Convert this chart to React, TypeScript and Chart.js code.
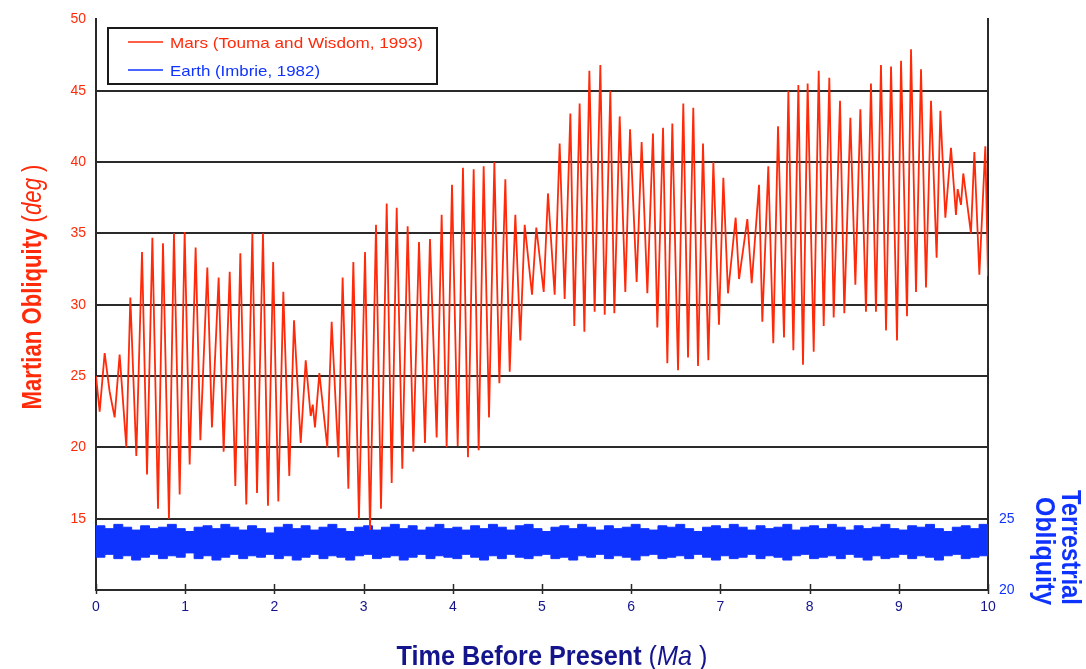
import React, { useEffect, useRef } from "react";
import { Chart, registerables } from "chart.js";

Chart.register(...registerables);

// Mars obliquity (Touma & Wisdom, 1993): successive turning points of the record
const marsTime = [
  0.0, 0.041, 0.097, 0.153, 0.209, 0.265, 0.34, 0.385, 0.452, 0.516,
  0.572, 0.632, 0.695, 0.751, 0.818, 0.874, 0.938, 0.994, 1.05, 1.117,
  1.17, 1.248, 1.3, 1.375, 1.431, 1.499, 1.562, 1.618, 1.685, 1.753,
  1.805, 1.872, 1.928, 1.986, 2.044, 2.1, 2.167, 2.22, 2.295, 2.351,
  2.407, 2.43, 2.455, 2.504, 2.593, 2.642, 2.717, 2.765, 2.829, 2.885,
  2.948, 3.016, 3.072, 3.139, 3.195, 3.259, 3.315, 3.371, 3.434, 3.494,
  3.558, 3.621, 3.688, 3.744, 3.819, 3.875, 3.931, 3.991, 4.055, 4.114,
  4.17, 4.234, 4.29, 4.346, 4.406, 4.466, 4.522, 4.589, 4.638, 4.701,
  4.757, 4.806, 4.888, 4.936, 5.019, 5.067, 5.142, 5.198, 5.254, 5.318,
  5.362, 5.422, 5.475, 5.531, 5.59, 5.654, 5.703, 5.766, 5.811, 5.871,
  5.934, 5.987, 6.061, 6.117, 6.181, 6.244, 6.293, 6.357, 6.405, 6.461,
  6.525, 6.584, 6.637, 6.696, 6.749, 6.805, 6.865, 6.921, 6.984, 7.033,
  7.085, 7.171, 7.209, 7.302, 7.351, 7.433, 7.47, 7.537, 7.593, 7.646,
  7.713, 7.762, 7.818, 7.874, 7.926, 7.978, 8.046, 8.102, 8.158, 8.221,
  8.27, 8.341, 8.389, 8.457, 8.513, 8.569, 8.632, 8.688, 8.744, 8.8,
  8.857, 8.913, 8.98, 9.025, 9.092, 9.137, 9.193, 9.249, 9.305, 9.361,
  9.424, 9.466, 9.522, 9.585, 9.641, 9.66, 9.697, 9.723, 9.809, 9.847,
  9.903, 9.97, 10.0,
];
const marsObliquity = [
  25.0, 22.5, 26.6, 23.9, 22.1, 26.5, 20.0, 30.5, 19.4, 33.7,
  18.1, 34.7, 15.7, 34.3, 15.0, 35.0, 16.7, 35.1, 18.8, 34.0,
  20.5, 32.6, 21.4, 31.9, 19.7, 32.3, 17.3, 33.6, 16.0, 35.0,
  16.8, 35.0, 15.9, 33.0, 16.2, 30.9, 18.0, 28.9, 20.3, 26.1,
  22.2, 23.0, 21.4, 25.2, 20.0, 28.8, 19.3, 31.9, 17.1, 33.0,
  15.0, 33.7, 14.2, 35.6, 15.7, 37.1, 17.5, 36.8, 18.5, 35.5,
  19.7, 34.4, 20.3, 34.6, 20.7, 36.3, 20.0, 38.4, 20.1, 39.6,
  19.3, 39.5, 19.8, 39.7, 22.1, 40.0, 24.5, 38.8, 25.3, 36.3,
  27.5, 35.6, 30.7, 35.4, 30.9, 37.8, 30.7, 41.3, 30.4, 43.4,
  28.5, 44.1, 28.1, 46.4, 29.5, 46.8, 29.3, 45.0, 29.4, 43.2,
  30.9, 42.3, 31.6, 41.4, 30.8, 42.0, 28.4, 42.4, 25.9, 42.7,
  25.4, 44.1, 26.3, 43.8, 25.7, 41.3, 26.1, 40.0, 28.6, 38.9,
  30.8, 36.1, 31.8, 36.0, 31.5, 38.4, 28.8, 39.7, 27.3, 42.5,
  27.7, 45.0, 26.8, 45.4, 25.8, 45.5, 26.7, 46.4, 28.5, 45.9,
  29.1, 44.3, 29.4, 43.1, 31.4, 43.7, 29.5, 45.5, 29.5, 46.8,
  28.2, 46.7, 27.5, 47.1, 29.2, 47.9, 30.9, 46.5, 31.2, 44.3,
  33.3, 43.6, 36.1, 41.0, 36.3, 38.1, 37.0, 39.2, 35.0, 40.7,
  32.1, 41.1, 32.0,
];

// Earth obliquity (Imbrie, 1982): upper and lower envelope of the 41 kyr cycle band
const earthTime = [
  0.0, 0.1, 0.2, 0.3, 0.4, 0.5, 0.6, 0.7, 0.8, 0.9,
  1.0, 1.1, 1.2, 1.3, 1.4, 1.5, 1.6, 1.7, 1.8, 1.9,
  2.0, 2.1, 2.2, 2.3, 2.4, 2.5, 2.6, 2.7, 2.8, 2.9,
  3.0, 3.1, 3.2, 3.3, 3.4, 3.5, 3.6, 3.7, 3.8, 3.9,
  4.0, 4.1, 4.2, 4.3, 4.4, 4.5, 4.6, 4.7, 4.8, 4.9,
  5.0, 5.1, 5.2, 5.3, 5.4, 5.5, 5.6, 5.7, 5.8, 5.9,
  6.0, 6.1, 6.2, 6.3, 6.4, 6.5, 6.6, 6.7, 6.8, 6.9,
  7.0, 7.1, 7.2, 7.3, 7.4, 7.5, 7.6, 7.7, 7.8, 7.9,
  8.0, 8.1, 8.2, 8.3, 8.4, 8.5, 8.6, 8.7, 8.8, 8.9,
  9.0, 9.1, 9.2, 9.3, 9.4, 9.5, 9.6, 9.7, 9.8, 9.9, 10.0,
];
const earthUpper = [
  24.5, 24.3, 24.6, 24.4, 24.2, 24.5, 24.3, 24.4, 24.6, 24.3,
  24.1, 24.4, 24.5, 24.3, 24.6, 24.4, 24.2, 24.5, 24.3, 24.0,
  24.4, 24.6, 24.3, 24.5, 24.2, 24.4, 24.6, 24.3, 24.1, 24.4,
  24.5, 24.2, 24.4, 24.6, 24.3, 24.5, 24.2, 24.4, 24.6, 24.3,
  24.4, 24.2, 24.5, 24.3, 24.6, 24.4, 24.2, 24.5, 24.6, 24.3,
  24.1, 24.4, 24.5, 24.3, 24.6, 24.4, 24.2, 24.5, 24.3, 24.4,
  24.6, 24.3, 24.2, 24.5, 24.4, 24.6, 24.3, 24.1, 24.4, 24.5,
  24.3, 24.6, 24.4, 24.2, 24.5, 24.3, 24.4, 24.6, 24.2, 24.4,
  24.5, 24.3, 24.6, 24.4, 24.2, 24.5, 24.3, 24.4, 24.6, 24.3,
  24.2, 24.5, 24.4, 24.6, 24.3, 24.1, 24.4, 24.5, 24.3, 24.6, 24.4,
];
const earthLower = [
  22.3, 22.5, 22.2, 22.4, 22.1, 22.3, 22.5, 22.2, 22.4, 22.3,
  22.6, 22.2, 22.4, 22.1, 22.3, 22.5, 22.2, 22.4, 22.3, 22.5,
  22.2, 22.4, 22.1, 22.3, 22.5, 22.2, 22.4, 22.3, 22.1, 22.4,
  22.5, 22.2, 22.3, 22.4, 22.1, 22.3, 22.5, 22.2, 22.4, 22.3,
  22.2, 22.5, 22.3, 22.1, 22.4, 22.2, 22.5, 22.3, 22.2, 22.4,
  22.5, 22.2, 22.3, 22.1, 22.4, 22.3, 22.5, 22.2, 22.4, 22.3,
  22.1, 22.4, 22.5, 22.2, 22.3, 22.4, 22.2, 22.5, 22.3, 22.1,
  22.4, 22.2, 22.3, 22.5, 22.2, 22.4, 22.3, 22.1, 22.4, 22.5,
  22.2, 22.3, 22.4, 22.2, 22.5, 22.3, 22.1, 22.4, 22.2, 22.3,
  22.5, 22.2, 22.4, 22.3, 22.1, 22.4, 22.5, 22.2, 22.3, 22.4, 22.3,
];

// Axis tick values that carry a label
const timeTicks = [0, 1, 2, 3, 4, 5, 6, 7, 8, 9, 10];
const marsTicks = [15, 20, 25, 30, 35, 40, 45, 50];
const earthTicks = [20, 25];

const MARS_RED = "#ff2a0a";
const EARTH_BLUE = "#0f33ff";
const NAVY = "#14148c";
const GRID = "#2a2a2a";
const NARROW = '"Liberation Sans Narrow", Arial, sans-serif';
const REGULAR = "Arial, sans-serif";

type Part = { text: string; font: string };

// Draws a run of differently styled text pieces, squeezed to a given length
function drawFitted(
  ctx: CanvasRenderingContext2D,
  parts: Part[],
  cx: number,
  cy: number,
  angle: number,
  length: number,
  color: string
) {
  ctx.save();
  let total = 0;
  const widths = parts.map((p) => {
    ctx.font = p.font;
    const w = ctx.measureText(p.text).width;
    total += w;
    return w;
  });
  ctx.translate(cx, cy);
  ctx.rotate(angle);
  ctx.scale(length / total, 1);
  ctx.fillStyle = color;
  ctx.textAlign = "left";
  ctx.textBaseline = "alphabetic";
  let x = -total / 2;
  parts.forEach((p, i) => {
    ctx.font = p.font;
    ctx.fillText(p.text, x, 0);
    x += widths[i];
  });
  ctx.restore();
}

const decorations = {
  id: "decorations",
  afterDraw(chart: any) {
    const ctx: CanvasRenderingContext2D = chart.ctx;
    const xs = chart.scales.x;
    const area = chart.chartArea;

    // small tick marks across the time axis
    ctx.save();
    ctx.strokeStyle = GRID;
    ctx.lineWidth = 1.5;
    timeTicks.forEach((t) => {
      const px = Math.round(xs.getPixelForValue(t)) + 0.5;
      ctx.beginPath();
      ctx.moveTo(px, area.bottom - 6);
      ctx.lineTo(px, area.bottom + 4);
      ctx.stroke();
    });
    ctx.restore();

    // legend box
    ctx.save();
    ctx.fillStyle = "#ffffff";
    ctx.fillRect(107, 28, 330, 56);
    ctx.strokeStyle = "#1a1a1a";
    ctx.lineWidth = 2;
    ctx.strokeRect(108, 28, 329, 56);
    ctx.lineWidth = 1.5;
    ctx.strokeStyle = MARS_RED;
    ctx.beginPath();
    ctx.moveTo(128, 42);
    ctx.lineTo(163, 42);
    ctx.stroke();
    ctx.strokeStyle = EARTH_BLUE;
    ctx.beginPath();
    ctx.moveTo(128, 70);
    ctx.lineTo(163, 70);
    ctx.stroke();
    ctx.restore();
    drawFitted(ctx, [{ text: "Mars (Touma and Wisdom, 1993)", font: `15px ${REGULAR}` }], 296.5, 47.5, 0, 253, MARS_RED);
    drawFitted(ctx, [{ text: "Earth (Imbrie, 1982)", font: `15px ${REGULAR}` }], 245, 75.5, 0, 150, EARTH_BLUE);

    // axis titles
    drawFitted(
      ctx,
      [
        { text: "Time Before Present ", font: `bold 28px ${NARROW}` },
        { text: "(", font: `28px ${NARROW}` },
        { text: "Ma", font: `italic 28px ${NARROW}` },
        { text: " )", font: `28px ${NARROW}` },
      ],
      552, 665, 0, 311, NAVY
    );
    drawFitted(
      ctx,
      [
        { text: "Martian Obliquity ", font: `bold 28px ${NARROW}` },
        { text: "(", font: `28px ${NARROW}` },
        { text: "deg", font: `italic 28px ${NARROW}` },
        { text: " )", font: `28px ${NARROW}` },
      ],
      41, 287, -Math.PI / 2, 245, MARS_RED
    );
    drawFitted(ctx, [{ text: "Terrestrial", font: `bold 27px ${NARROW}` }], 1062, 547.5, Math.PI / 2, 115, EARTH_BLUE);
    drawFitted(ctx, [{ text: "Obliquity", font: `bold 27px ${NARROW}` }], 1036, 551, Math.PI / 2, 108, EARTH_BLUE);
  },
};

export default function App() {
  const canvasRef = useRef<HTMLCanvasElement | null>(null);

  useEffect(() => {
    document.body.style.margin = "0";
    const canvas = canvasRef.current;
    if (!canvas) return;

    const chart = new Chart(canvas, {
      type: "line",
      data: {
        datasets: [
          {
            label: "Mars (Touma and Wisdom, 1993)",
            data: marsTime.map((t, i) => ({ x: t, y: marsObliquity[i] })),
            yAxisID: "y",
            borderColor: MARS_RED,
            borderWidth: 1.8,
            borderJoinStyle: "bevel",
            pointRadius: 0,
            fill: false,
            tension: 0,
          },
          {
            label: "Earth upper",
            data: earthTime.map((t, i) => ({ x: t, y: earthUpper[i] })),
            yAxisID: "y1",
            borderColor: EARTH_BLUE,
            borderWidth: 1,
            pointRadius: 0,
            fill: false,
            stepped: true,
          },
          {
            label: "Earth (Imbrie, 1982)",
            data: earthTime.map((t, i) => ({ x: t, y: earthLower[i] })),
            yAxisID: "y1",
            borderColor: EARTH_BLUE,
            backgroundColor: EARTH_BLUE,
            borderWidth: 1,
            pointRadius: 0,
            fill: "-1",
            stepped: true,
          },
        ],
      },
      options: {
        responsive: false,
        animation: false,
        layout: { padding: { top: 18, left: 0, right: 0, bottom: 0 } },
        plugins: {
          legend: { display: false },
          tooltip: { enabled: false },
        },
        scales: {
          x: {
            type: "linear",
            position: "bottom",
            min: 0,
            max: 10,
            afterBuildTicks: (s: any) => {
              s.ticks = timeTicks.map((v) => ({ value: v }));
            },
            ticks: {
              autoSkip: false,
              maxRotation: 0,
              color: NAVY,
              padding: 9,
              font: { family: NARROW, size: 14 },
            },
            grid: { drawOnChartArea: false, drawTicks: false },
            border: { display: true, color: GRID, width: 2 },
            afterFit: (s: any) => {
              s.height = 79;
            },
          },
          y: {
            type: "linear",
            position: "left",
            min: 10,
            max: 50,
            afterBuildTicks: (s: any) => {
              s.ticks = [10, ...marsTicks].map((v) => ({ value: v }));
            },
            ticks: {
              autoSkip: false,
              color: MARS_RED,
              padding: 10,
              font: { family: NARROW, size: 14 },
              callback: (v: any) => (marsTicks.includes(Number(v)) ? String(v) : ""),
            },
            grid: {
              drawTicks: false,
              lineWidth: 2,
              color: (c: any) =>
                c.tick && (c.tick.value === 10 || c.tick.value === 50) ? "rgba(0,0,0,0)" : GRID,
            },
            border: { display: true, color: GRID, width: 2 },
            afterFit: (s: any) => {
              s.width = 96;
            },
          },
          y1: {
            type: "linear",
            position: "right",
            min: 20,
            max: 60,
            afterBuildTicks: (s: any) => {
              s.ticks = earthTicks.map((v) => ({ value: v }));
            },
            ticks: {
              autoSkip: false,
              color: EARTH_BLUE,
              padding: 11,
              font: { family: NARROW, size: 14 },
            },
            grid: { drawOnChartArea: false, drawTicks: false },
            border: { display: true, color: GRID, width: 2 },
            afterFit: (s: any) => {
              s.width = 98;
            },
          },
        },
      },
      plugins: [decorations],
    });

    return () => chart.destroy();
  }, []);

  return (
    <div style={{ position: "absolute", left: 0, top: 0, width: 1086, height: 669, background: "#ffffff" }}>
      <canvas ref={canvasRef} width={1086} height={669} style={{ display: "block" }} />
    </div>
  );
}
